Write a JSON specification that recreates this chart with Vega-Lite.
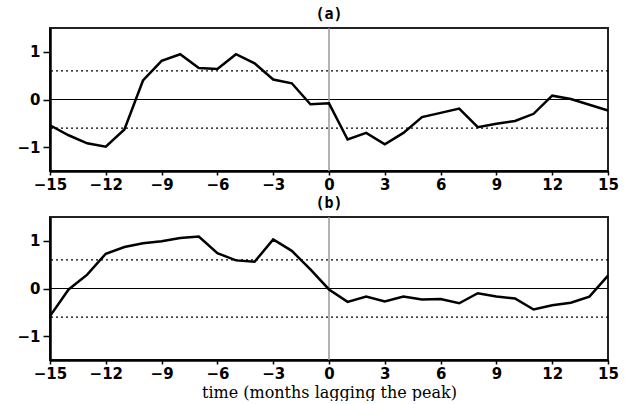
{
  "$schema": "https://vega.github.io/schema/vega-lite/v6.json",
  "background": "white",
  "padding": {"left": 15, "top": 6, "right": 4, "bottom": 0},
  "spacing": 2,
  "config": {
    "view": {"stroke": "#222", "strokeWidth": 2},
    "axis": {
      "grid": false,
      "domain": true,
      "domainColor": "black",
      "domainWidth": 2.5,
      "labelFont": "DejaVu Sans",
      "labelFontWeight": "bold",
      "labelFontSize": 15,
      "labelColor": "black",
      "labelFlush": false,
      "labelOverlap": false,
      "tickColor": "black",
      "tickWidth": 1.5
    },
    "axisX": {"tickSize": 4, "labelPadding": 2},
    "axisY": {"tickSize": 7, "labelPadding": 3},
    "title": {"font": "DejaVu Sans Mono", "fontWeight": "bold", "fontSize": 15, "offset": 5, "color": "black"}
  },
  "datasets": {
    "a": [
      {"month": -15, "value": -0.54}, {"month": -14, "value": -0.75}, {"month": -13, "value": -0.92},
      {"month": -12, "value": -0.99}, {"month": -11, "value": -0.63}, {"month": -10, "value": 0.40},
      {"month": -9, "value": 0.81}, {"month": -8, "value": 0.95}, {"month": -7, "value": 0.66},
      {"month": -6, "value": 0.64}, {"month": -5, "value": 0.95}, {"month": -4, "value": 0.76},
      {"month": -3, "value": 0.42}, {"month": -2, "value": 0.34}, {"month": -1, "value": -0.10},
      {"month": 0, "value": -0.08}, {"month": 1, "value": -0.84}, {"month": 2, "value": -0.70},
      {"month": 3, "value": -0.94}, {"month": 4, "value": -0.70}, {"month": 5, "value": -0.37},
      {"month": 6, "value": -0.28}, {"month": 7, "value": -0.19}, {"month": 8, "value": -0.58},
      {"month": 9, "value": -0.51}, {"month": 10, "value": -0.45}, {"month": 11, "value": -0.30},
      {"month": 12, "value": 0.08}, {"month": 13, "value": 0.01}, {"month": 14, "value": -0.11},
      {"month": 15, "value": -0.23}
    ],
    "b": [
      {"month": -15, "value": -0.58}, {"month": -14, "value": -0.02}, {"month": -13, "value": 0.29},
      {"month": -12, "value": 0.73}, {"month": -11, "value": 0.87}, {"month": -10, "value": 0.95},
      {"month": -9, "value": 0.99}, {"month": -8, "value": 1.06}, {"month": -7, "value": 1.09},
      {"month": -6, "value": 0.74}, {"month": -5, "value": 0.59}, {"month": -4, "value": 0.56},
      {"month": -3, "value": 1.03}, {"month": -2, "value": 0.79}, {"month": -1, "value": 0.40},
      {"month": 0, "value": -0.02}, {"month": 1, "value": -0.28}, {"month": 2, "value": -0.17},
      {"month": 3, "value": -0.27}, {"month": 4, "value": -0.17}, {"month": 5, "value": -0.23},
      {"month": 6, "value": -0.22}, {"month": 7, "value": -0.31}, {"month": 8, "value": -0.10},
      {"month": 9, "value": -0.17}, {"month": 10, "value": -0.21}, {"month": 11, "value": -0.44},
      {"month": 12, "value": -0.35}, {"month": 13, "value": -0.30}, {"month": 14, "value": -0.17},
      {"month": 15, "value": 0.27}
    ],
    "dotted": [{"value": 0.6}, {"value": -0.6}],
    "zero": [{"value": 0}],
    "vline": [{"month": 0}]
  },
  "vconcat": [
    {
      "width": 558,
      "height": 143,
      "title": {"text": "(a)"},
      "layer": [
        {
          "data": {"name": "dotted"},
          "mark": {"type": "rule", "color": "black", "strokeWidth": 1.3, "strokeDash": [2, 3]},
          "encoding": {"y": {"field": "value", "type": "quantitative", "scale": {"domain": [-1.5, 1.5]}, "axis": {"values": [-1, 0, 1], "title": null}}}
        },
        {
          "data": {"name": "zero"},
          "mark": {"type": "rule", "color": "black", "strokeWidth": 1.2},
          "encoding": {"y": {"field": "value", "type": "quantitative", "scale": {"domain": [-1.5, 1.5]}, "axis": {"values": [-1, 0, 1], "title": null}}}
        },
        {
          "data": {"name": "vline"},
          "mark": {"type": "rule", "color": "#999999", "strokeWidth": 1.5},
          "encoding": {"x": {"field": "month", "type": "quantitative", "scale": {"domain": [-15, 15], "nice": false}, "axis": {"values": [-15, -12, -9, -6, -3, 0, 3, 6, 9, 12, 15], "title": null}}}
        },
        {
          "data": {"name": "a"},
          "mark": {"type": "line", "color": "black", "strokeWidth": 2.5},
          "encoding": {
            "x": {"field": "month", "type": "quantitative", "scale": {"domain": [-15, 15], "nice": false}, "axis": {"values": [-15, -12, -9, -6, -3, 0, 3, 6, 9, 12, 15], "title": null}},
            "y": {"field": "value", "type": "quantitative", "scale": {"domain": [-1.5, 1.5]}, "axis": {"values": [-1, 0, 1], "title": null}}
          }
        }
      ]
    },
    {
      "width": 558,
      "height": 143,
      "title": {"text": "(b)"},
      "layer": [
        {
          "data": {"name": "dotted"},
          "mark": {"type": "rule", "color": "black", "strokeWidth": 1.3, "strokeDash": [2, 3]},
          "encoding": {"y": {"field": "value", "type": "quantitative", "scale": {"domain": [-1.5, 1.5]}, "axis": {"values": [-1, 0, 1], "title": null}}}
        },
        {
          "data": {"name": "zero"},
          "mark": {"type": "rule", "color": "black", "strokeWidth": 1.2},
          "encoding": {"y": {"field": "value", "type": "quantitative", "scale": {"domain": [-1.5, 1.5]}, "axis": {"values": [-1, 0, 1], "title": null}}}
        },
        {
          "data": {"name": "vline"},
          "mark": {"type": "rule", "color": "#999999", "strokeWidth": 1.5},
          "encoding": {"x": {"field": "month", "type": "quantitative", "scale": {"domain": [-15, 15], "nice": false}, "axis": {"values": [-15, -12, -9, -6, -3, 0, 3, 6, 9, 12, 15], "title": "time (months lagging the peak)", "titleFont": "DejaVu Serif", "titleFontWeight": "normal", "titleFontSize": 16, "titleColor": "black", "titlePadding": 3}}}
        },
        {
          "data": {"name": "b"},
          "mark": {"type": "line", "color": "black", "strokeWidth": 2.5},
          "encoding": {
            "x": {"field": "month", "type": "quantitative", "scale": {"domain": [-15, 15], "nice": false}, "axis": {"values": [-15, -12, -9, -6, -3, 0, 3, 6, 9, 12, 15], "title": "time (months lagging the peak)", "titleFont": "DejaVu Serif", "titleFontWeight": "normal", "titleFontSize": 16, "titleColor": "black", "titlePadding": 3}},
            "y": {"field": "value", "type": "quantitative", "scale": {"domain": [-1.5, 1.5]}, "axis": {"values": [-1, 0, 1], "title": null}}
          }
        }
      ]
    }
  ]
}
